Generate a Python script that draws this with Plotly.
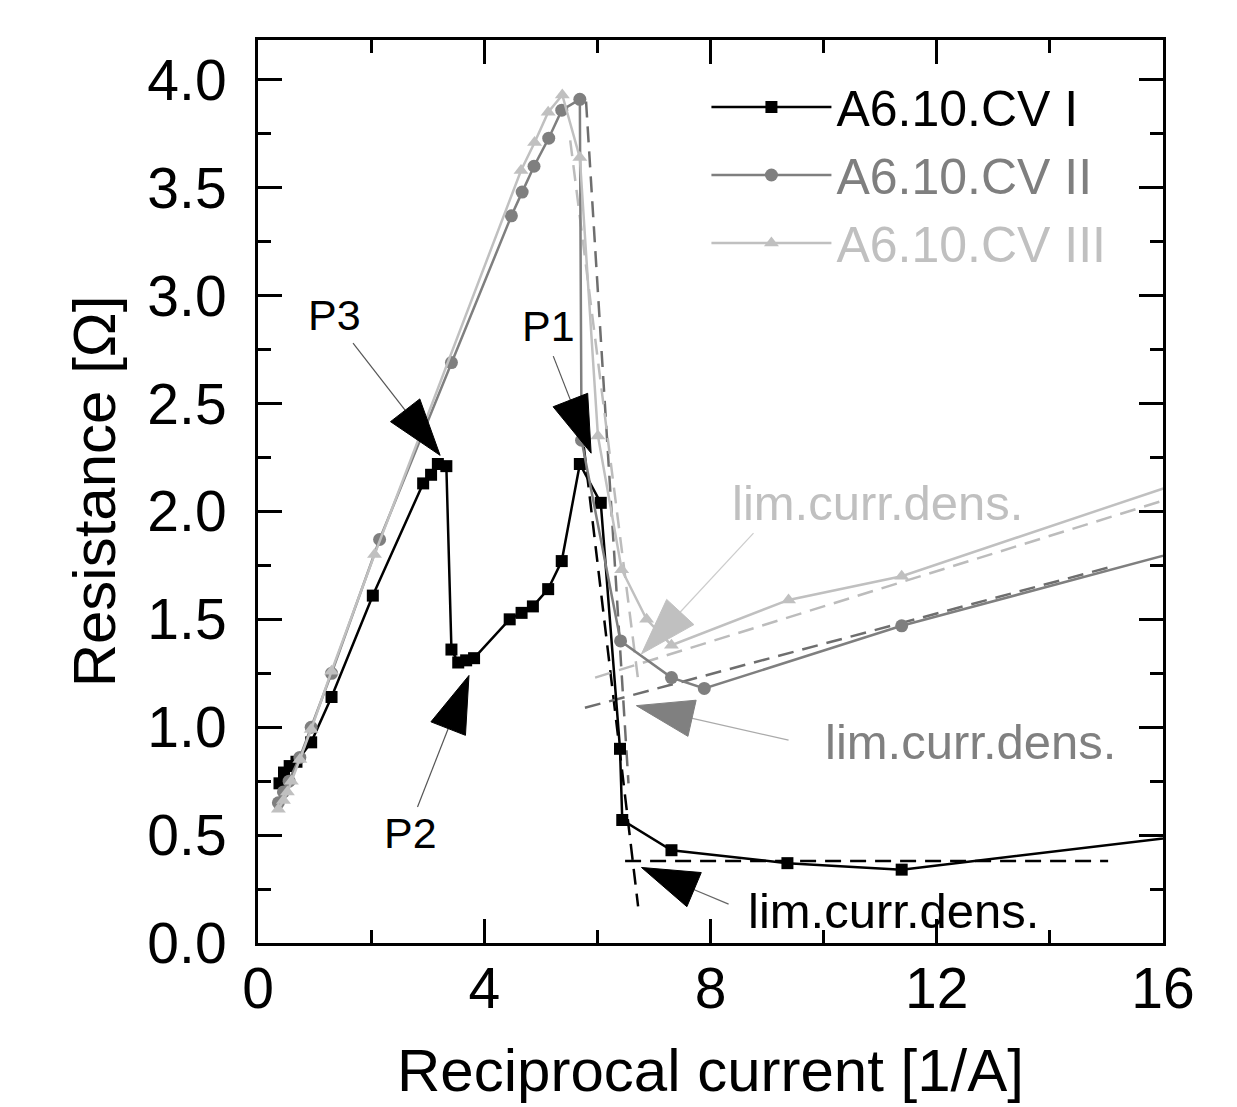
import plotly.graph_objects as go

# series
x_cv1 = [0.38, 0.46, 0.56, 0.68, 0.94, 1.30, 2.03, 2.92, 3.06, 3.18, 3.33, 3.42, 3.54, 3.68, 3.82,
         4.45, 4.66, 4.86, 5.13, 5.37, 5.69, 6.06, 6.40, 6.44, 7.31, 9.36, 11.38, 16.5]
y_cv1 = [0.74, 0.79, 0.82, 0.84, 0.93, 1.14, 1.61, 2.13, 2.17, 2.22, 2.21, 1.36, 1.30, 1.31, 1.32,
         1.50, 1.53, 1.56, 1.64, 1.77, 2.22, 2.04, 0.90, 0.57, 0.43, 0.37, 0.34, 0.50]

x_cv2 = [0.36, 0.45, 0.55, 0.74, 0.94, 1.30, 2.15, 3.42, 4.48, 4.67, 4.88, 5.14, 5.37, 5.69, 5.72,
         6.41, 7.31, 7.89, 11.38, 16.5]
y_cv2 = [0.65, 0.70, 0.75, 0.86, 1.00, 1.25, 1.87, 2.69, 3.37, 3.48, 3.60, 3.73, 3.86, 3.91, 2.33,
         1.40, 1.23, 1.18, 1.47, 1.83]

x_cv3 = [0.36, 0.45, 0.52, 0.59, 0.74, 0.94, 1.30, 2.06, 4.65, 4.89, 5.13, 5.38, 5.69, 6.01, 6.43,
         6.87, 7.31, 9.38, 11.38, 16.5]
y_cv3 = [0.62, 0.66, 0.70, 0.75, 0.85, 0.99, 1.26, 1.80, 3.58, 3.71, 3.85, 3.93, 3.64, 2.35, 1.73,
         1.50, 1.38, 1.59, 1.70, 2.15]

# dashed fit lines (two end points each)
fit1_steep_x, fit1_steep_y = [5.76, 6.72], [2.30, 0.17]
fit1_flat_x, fit1_flat_y = [6.49, 15.03], [0.38, 0.38]
fit2_steep_x, fit2_steep_y = [5.80, 6.55], [3.90, 0.74]
fit2_flat_x, fit2_flat_y = [5.78, 15.03], [1.09, 1.74]
fit3_steep_x, fit3_steep_y = [5.52, 6.72], [3.72, 1.22]
fit3_flat_x, fit3_flat_y = [5.96, 16.0], [1.23, 2.05]

names = ["A6.10.CV I", "A6.10.CV II", "A6.10.CV III"]
c1, c2, c3 = "#000000", "#7f7f7f", "#c0c0c0"

fig = go.Figure()

dash = "16px,9px"
for fx, fy, col in [(fit1_steep_x, fit1_steep_y, "#000000"), (fit1_flat_x, fit1_flat_y, "#000000"),
                    (fit2_steep_x, fit2_steep_y, "#6e6e6e"), (fit2_flat_x, fit2_flat_y, "#6e6e6e"),
                    (fit3_steep_x, fit3_steep_y, "#bcbcbc"), (fit3_flat_x, fit3_flat_y, "#bcbcbc")]:
    fig.add_trace(go.Scatter(x=fx, y=fy, mode="lines", showlegend=False,
                             line=dict(color=col, width=2.5, dash=dash)))

fig.add_trace(go.Scatter(x=x_cv1, y=y_cv1, mode="lines+markers", name=names[0],
                         line=dict(color=c1, width=2.5),
                         marker=dict(symbol="square", size=12, color=c1)))
fig.add_trace(go.Scatter(x=x_cv2, y=y_cv2, mode="lines+markers",
                         name='<span style="color:%s">%s</span>' % (c2, names[1]),
                         line=dict(color=c2, width=2.5),
                         marker=dict(symbol="circle", size=13, color=c2)))
fig.add_trace(go.Scatter(x=x_cv3, y=y_cv3, mode="lines+markers",
                         name='<span style="color:%s">%s</span>' % (c3, names[2]),
                         line=dict(color=c3, width=2.5),
                         marker=dict(symbol="triangle-up", size=13, color=c3)))


def add_arrow(tail, tip, head_col, line_col):
    fig.add_trace(go.Scatter(x=[tail[0], tip[0]], y=[tail[1], tip[1]], mode="lines+markers",
                             showlegend=False, hoverinfo="skip",
                             line=dict(color=line_col, width=1.2),
                             marker=dict(symbol=["circle", "arrow"], size=[0, 60], color=head_col,
                                         opacity=1, angleref="previous",
                                         line=dict(width=1, color=head_col))))


add_arrow((1.68, 2.78), (3.22, 2.26), "#000000", "#555555")
add_arrow((5.22, 2.72), (5.89, 2.27), "#000000", "#555555")
add_arrow((2.82, 0.63), (3.73, 1.24), "#000000", "#555555")
add_arrow((8.76, 1.90), (6.78, 1.34), "#c0c0c0", "#cccccc")
add_arrow((9.38, 0.94), (6.69, 1.10), "#808080", "#aaaaaa")
add_arrow((8.32, 0.18), (6.78, 0.35), "#000000", "#666666")

labels = [("P3", 1.36, 2.91, "#000000", 43), ("P1", 5.13, 2.86, "#000000", 43),
          ("P2", 2.69, 0.51, "#000000", 43),
          ("lim.curr.dens.", 10.96, 2.04, "#c0c0c0", 49),
          ("lim.curr.dens.", 12.59, 0.93, "#808080", 49),
          ("lim.curr.dens.", 11.23, 0.15, "#000000", 49)]
for t, lx, ly, col, fs in labels:
    fig.add_annotation(x=lx, y=ly, text=t, showarrow=False, font=dict(size=fs, color=col))

axis_common = dict(showline=True, linewidth=3, linecolor="black", mirror="allticks",
                   ticks="inside", ticklen=24, tickwidth=3, tickcolor="black",
                   showgrid=False, zeroline=False, automargin=False,
                   tickfont=dict(size=57, color="black"))

fig.update_xaxes(range=[0, 16], dtick=4, tick0=0,
                 minor=dict(ticks="inside", ticklen=13, tickwidth=3, dtick=2, tickcolor="black"),
                 title=dict(text="Reciprocal current [1/A]", font=dict(size=60, color="black"),
                            standoff=30),
                 ticklabelstandoff=-6, **axis_common)
fig.update_yaxes(range=[0, 4.185], dtick=0.5, tick0=0, tickformat=".1f",
                 minor=dict(ticks="inside", ticklen=13, tickwidth=3, dtick=0.25, tickcolor="black"),
                 title=dict(text="Resistance [Ω]", font=dict(size=60, color="black"), standoff=13),
                 ticklabelstandoff=17, **axis_common)

# page body adds an 8px offset, so the figure is a little smaller than the window
fig.update_layout(width=1229, height=1099, plot_bgcolor="white", paper_bgcolor="white",
                  font=dict(family="Liberation Sans, Arial, sans-serif", color="black"),
                  margin=dict(l=250, r=74, t=32, b=164, autoexpand=False),
                  legend=dict(x=0.4955, y=0.969, xanchor="left", yanchor="top",
                              font=dict(size=50, color="black"), itemwidth=120,
                              bgcolor="rgba(0,0,0,0)", tracegroupgap=0))

fig.write_html("out.html")
